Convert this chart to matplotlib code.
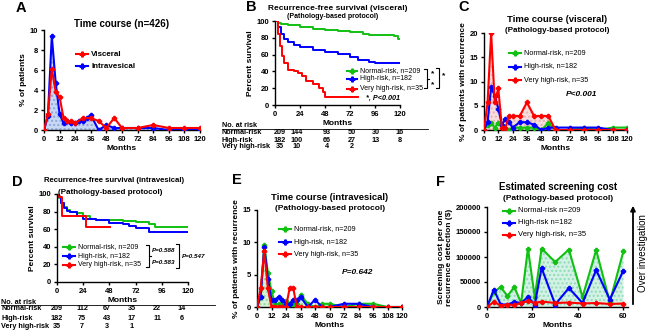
import matplotlib
matplotlib.use("Agg")
import matplotlib.pyplot as plt
from matplotlib.lines import Line2D
from matplotlib.patches import FancyArrowPatch

plt.rcParams["font.family"] = ["Liberation Sans", "DejaVu Sans"]
plt.rcParams["font.weight"] = "bold"
plt.rcParams["axes.labelweight"] = "bold"
plt.rcParams["axes.linewidth"] = 1.0

RED = "#ff0000"
BLUE = "#0000ff"
GREEN = "#11c011"

# ---- panel A: time course, all patients
months_a = [0, 3, 6, 9, 12, 15, 18, 21, 24, 30, 36, 42, 48, 54, 60, 72, 84, 96, 108, 120]
visceral_a = [0, 1.6, 6.1, 3.8, 3.3, 1.2, 0.9, 0.9, 0.7, 1.2, 1.2, 0.9, 0.2, 1.2, 0.2, 0.2, 0.5, 0.2, 0.2, 0.2]
months_a_iv = [0, 3, 6, 9, 12, 15, 18, 21, 24, 27, 30, 33, 36, 42, 48, 54, 60, 72, 84, 96, 108, 120]
intraves_a = [0, 1.4, 9.4, 4.7, 1.6, 0.7, 0.9, 0.7, 0.7, 0.9, 0.9, 1.2, 1.5, 0, 0.5, 0.2, 0.2, 0.2, 0.2, 0, 0, 0]

# ---- panel B: recurrence-free survival (visceral)
km_b_normal_t = [0, 3, 6, 12, 24, 36, 48, 60, 72, 84, 90, 108, 114, 118, 120]
km_b_normal_s = [100, 98, 97, 95, 93, 91, 89, 88, 87, 85, 83, 83, 82, 78, 78]
km_b_high_t = [0, 3, 6, 9, 12, 18, 24, 36, 48, 60, 72, 80, 90, 96, 120]
km_b_high_s = [100, 93, 85, 78, 75, 72, 69, 66, 63, 61, 57, 54, 51, 50, 50]
km_b_vhigh_t = [0, 3, 5, 7, 9, 12, 18, 22, 26, 30, 36, 42, 46, 48, 80]
km_b_vhigh_s = [100, 85, 70, 58, 50, 42, 40, 38, 35, 28, 25, 20, 15, 10, 10]
risk_b_normal = ["209", "144", "93", "50", "30", "16"]
risk_b_high = ["182", "100", "66", "27", "13", "8"]
risk_b_vhigh = ["35", "10", "4", "2"]

# ---- panel C: time course (visceral) by risk group
months_c = [0, 3, 6, 9, 12, 15, 18, 21, 24, 30, 36, 42, 48, 54, 60, 72, 84, 96, 108, 120]
c_normal = [0, 1.0, 1.4, 0.5, 1.4, 1.0, 0.5, 0, 0.5, 0.5, 0.5, 0.5, 0, 1.4, 0, 0, 0.5, 0, 0.5, 0.5]
c_high = [0, 1.6, 8.8, 7.1, 4.4, 1.1, 2.2, 1.6, 0.5, 1.6, 1.6, 1.1, 0, 0.5, 0.5, 0.5, 0.5, 0.5, 0, 0]
c_vhigh = [0, 5.7, 20, 5.7, 8.6, 0.5, 0.5, 2.9, 2.9, 2.9, 5.7, 2.9, 2.9, 2.9, 0, 0, 0, 0, 0, 0]

# ---- panel D: recurrence-free survival (intravesical)
km_d_normal_t = [0, 2, 4, 6, 9, 12, 18, 24, 30, 36, 48, 60, 72, 84, 90, 120]
km_d_normal_s = [100, 96, 90, 85, 82, 80, 78, 75, 72, 71, 70, 69, 68, 66, 63, 63]
km_d_high_t = [0, 2, 4, 6, 9, 12, 18, 24, 36, 48, 60, 66, 72, 84, 120]
km_d_high_s = [100, 97, 90, 84, 81, 79, 75, 72, 70, 67, 66, 64, 61, 57, 57]
km_d_vhigh_t = [0, 2, 5, 27, 49]
km_d_vhigh_s = [100, 97, 75, 62, 62]
risk_d_normal = ["209", "112", "67", "35", "22", "14"]
risk_d_high = ["182", "75", "43", "17", "11", "6"]
risk_d_vhigh = ["35", "7", "3", "1"]

# ---- panel E: time course (intravesical) by risk group
months_e = [0, 3, 6, 9, 12, 15, 18, 21, 24, 27, 30, 33, 36, 42, 48, 54, 60, 72, 84, 96, 108, 120]
e_normal = [0, 1.5, 9.6, 5.3, 2.4, 0.5, 0.5, 0.5, 1.0, 0.5, 0.5, 0.5, 1.9, 0.5, 0, 0.5, 0.5, 0, 0.5, 0.5, 0, 0]
e_high = [0, 1.6, 9.3, 4.4, 1.1, 1.1, 1.6, 1.1, 0.5, 0.5, 1.1, 1.1, 1.6, 0, 1.1, 0, 0, 0.5, 0.5, 0, 0, 0]
e_vhigh = [0, 2.9, 8.6, 2.9, 0, 0, 0, 0, 0, 2.9, 2.9, 0, 0, 0, 0, 0, 0, 0, 0, 0, 0, 0]

# ---- panel F: estimated screening cost
months_f = [0, 3, 6, 9, 12, 15, 18, 21, 24, 30, 36, 42, 48, 54, 60]
f_normal = [0, 30000, 40000, 22000, 40000, 8000, 117000, 20000, 117000, 90000, 115000, 20000, 114000, 10000, 112000]
f_high = [0, 35000, 5000, 5000, 10000, 8000, 20000, 5000, 78000, 5000, 38000, 8000, 74000, 15000, 73000]
f_vhigh = [0, 10000, 3000, 5000, 4000, 8000, 12000, 8000, 11000, 8000, 9000, 7000, 8000, 6000, 7000]

W, H = 650, 331
fig = plt.figure(figsize=(6.5, 3.31), dpi=100)


def px_axes(l, t, r, b):
    ax = fig.add_axes([l / W, 1 - b / H, (r - l) / W, (b - t) / H])
    ax.spines["top"].set_visible(False)
    ax.spines["right"].set_visible(False)
    ax.tick_params(labelsize=5.5, length=2.5, width=1, pad=1.5)
    return ax


def ftext(x, y, s, **kw):
    kw.setdefault("fontsize", 6)
    kw.setdefault("va", "center")
    fig.text(x / W, 1 - y / H, s, **kw)


def fline(xs, ys, **kw):
    fig.add_artist(Line2D([x / W for x in xs], [1 - y / H for y in ys], **kw))


def legend_item(x0, x1, y, color, label, size=5.2, weight="normal"):
    fline([x0, x1], [y, y], color=color, lw=1.5)
    fline([(x0 + x1) / 2], [y], color=color, marker="P", ms=3.5, lw=0)
    ftext(x1 + 3, y, label, fontsize=size, fontweight=weight, ha="left")


def bold_ticks(ax):
    for lab in ax.get_xticklabels() + ax.get_yticklabels():
        lab.set_fontweight("bold")


def letter(x, y, s):
    ftext(x, y, s, fontsize=10.5, fontweight="bold", ha="left")


mk = dict(marker="P", ms=3, lw=1.5)
TB = dict(fontsize=5.2, fontweight="bold")

# ---------------- A
ax = px_axes(44, 30, 200, 130)
ax.fill_between(months_a_iv, intraves_a, color="#c9d8f2", hatch="....", edgecolor="#8aa6dd", lw=0)
ax.plot(months_a_iv, intraves_a, color=BLUE, **mk, zorder=3)
ax.plot(months_a, visceral_a, color=RED, **mk, zorder=4)
ax.set_xlim(0, 120)
ax.set_ylim(0, 10)
ax.set_xticks(range(0, 121, 12))
ax.set_yticks(range(0, 11, 2))
ax.set_xlabel("Months", fontsize=6, labelpad=2)
ax.set_ylabel("% of patients", fontsize=6, labelpad=2)
bold_ticks(ax)
ftext(122, 24, "Time course (n=426)", fontsize=7, fontweight="bold", ha="center")
legend_item(76, 88, 54, RED, "Visceral", size=5.8, weight="bold")
legend_item(76, 88, 66, BLUE, "Intravesical", size=5.8, weight="bold")
letter(16, 8, "A")

# ---------------- B
ax = px_axes(275, 21, 400, 105)
ax.step(km_b_normal_t, km_b_normal_s, where="post", color=GREEN, lw=1.4)
ax.step(km_b_high_t, km_b_high_s, where="post", color=BLUE, lw=1.4)
ax.step(km_b_vhigh_t, km_b_vhigh_s, where="post", color=RED, lw=1.4)
ax.set_xlim(0, 120)
ax.set_ylim(0, 100)
ax.set_xticks(range(0, 121, 24))
ax.set_yticks(range(0, 101, 20))
ax.set_xlabel("Months", fontsize=6, labelpad=2)
ax.set_ylabel("Percent survival", fontsize=6, labelpad=2)
bold_ticks(ax)
ftext(338, 8, "Recurrence-free survival (visceral)", fontsize=6, fontweight="bold", ha="center")
ftext(333, 16, "(Pathology-based protocol)", fontsize=5, fontweight="bold", ha="center")
legend_item(347, 357, 71, GREEN, "Normal-risk, n=209", size=5)
legend_item(347, 357, 79, BLUE, "High-risk, n=182", size=5)
legend_item(347, 357, 89, RED, "Very high-risk, n=35", size=5)
fline([424, 427, 427, 424], [69, 69, 88, 88], color="black", lw=0.8)
fline([427, 429], [79, 79], color="black", lw=0.8)
ftext(431, 74, "*", fontsize=6)
ftext(431, 85, "*", fontsize=6)
fline([436, 439, 439, 436], [68, 68, 88, 88], color="black", lw=0.8)
ftext(442, 76, "*", fontsize=6)
ftext(383, 98, "*, P<0.001", fontsize=5.2, fontweight="bold", style="italic", ha="center")
ftext(222, 125, "No. at risk", ha="left", **TB)
fline([222, 428], [129, 129], color="black", lw=0.6)
cols_b = [280, 297, 327, 352, 376, 400]
for y, lab, vals in [(132, "Normal-risk", risk_b_normal), (140, "High-risk", risk_b_high),
                     (147, "Very high-risk", risk_b_vhigh)]:
    ftext(222, y, lab, ha="left", **TB)
    for x, v in zip(cols_b, vals):
        ftext(x, y, v, ha="center", **TB)
letter(246, 7, "B")

# ---------------- C
ax = px_axes(484, 33, 627, 130)
ax.fill_between(months_c, c_vhigh, color="#f6dede", hatch="....", edgecolor="#efb0b0", lw=0)
ax.plot(months_c, c_normal, color=GREEN, **mk, zorder=3)
ax.plot(months_c, c_high, color=BLUE, **mk, zorder=4)
ax.plot(months_c, c_vhigh, color=RED, **mk, zorder=5)
ax.set_xlim(0, 120)
ax.set_ylim(0, 20)
ax.set_xticks(range(0, 121, 12))
ax.set_yticks(range(0, 21, 5))
ax.set_xlabel("Months", fontsize=6, labelpad=2)
ax.set_ylabel("% of patients with recurrence", fontsize=6, labelpad=2)
bold_ticks(ax)
ftext(557, 20, "Time course (visceral)", fontsize=6.8, fontweight="bold", ha="center")
ftext(557, 31, "(Pathology-based protocol)", fontsize=5.8, fontweight="bold", ha="center")
legend_item(509, 521, 53, GREEN, "Normal-risk, n=209")
legend_item(509, 521, 67, BLUE, "High-risk, n=182")
legend_item(509, 521, 80, RED, "Very high-risk, n=35")
ftext(582, 95, "P<0.001", fontsize=6, fontweight="bold", style="italic", ha="center")
letter(458, 7, "C")

# ---------------- D
ax = px_axes(57, 194, 188, 282)
ax.step(km_d_normal_t, km_d_normal_s, where="post", color=GREEN, lw=1.4)
ax.step(km_d_high_t, km_d_high_s, where="post", color=BLUE, lw=1.4)
ax.step(km_d_vhigh_t, km_d_vhigh_s, where="post", color=RED, lw=1.4)
ax.set_xlim(0, 120)
ax.set_ylim(0, 100)
ax.set_xticks(range(0, 121, 24))
ax.set_yticks(range(0, 101, 20))
ax.set_xlabel("Months", fontsize=6, labelpad=2)
ax.set_ylabel("Percent survival", fontsize=6, labelpad=2)
bold_ticks(ax)
ftext(114, 180, "Recurrence-free survival (intravesical)", fontsize=5.6, fontweight="bold", ha="center")
ftext(110, 192, "(Pathology-based protocol)", fontsize=5.8, fontweight="bold", ha="center")
legend_item(63, 75, 247, GREEN, "Normal-risk, n=209", size=5)
legend_item(63, 75, 256, BLUE, "High-risk, n=182", size=5)
legend_item(63, 75, 265, RED, "Very high-risk, n=35", size=5)
fline([146, 149, 149, 146], [245, 245, 267, 267], color="black", lw=0.8)
fline([149, 151], [256, 256], color="black", lw=0.8)
ftext(152, 251, "P=0.588", fontsize=4.5, fontweight="bold", style="italic", ha="left")
ftext(152, 262, "P=0.583", fontsize=4.5, fontweight="bold", style="italic", ha="left")
fline([176, 179, 179, 176], [244, 244, 268, 268], color="black", lw=0.8)
ftext(182, 256, "P=0.547", fontsize=4.5, fontweight="bold", style="italic", ha="left")
ftext(1, 302, "No. at risk", ha="left", **TB)
fline([1, 215], [305, 305], color="black", lw=0.6)
cols_d = [57, 82, 107, 132, 157, 182]
for y, lab, vals in [(309, "Normal-risk", risk_d_normal), (318, "High-risk", risk_d_high),
                     (326, "Very high-risk", risk_d_vhigh)]:
    ftext(1, y, lab, ha="left", **TB)
    for x, v in zip(cols_d, vals):
        ftext(x, y, v, ha="center", **TB)
letter(12, 182, "D")

# ---------------- E
ax = px_axes(257, 210, 402, 307)
ax.fill_between(months_e, e_normal, color="#d8f2d8", hatch="....", edgecolor="#9ad89a", lw=0)
ax.plot(months_e, e_normal, color=GREEN, **mk, zorder=3)
ax.plot(months_e, e_high, color=BLUE, **mk, zorder=4)
ax.plot(months_e, e_vhigh, color=RED, **mk, zorder=5)
ax.set_xlim(0, 120)
ax.set_ylim(0, 15)
ax.set_xticks(range(0, 121, 12))
ax.set_yticks(range(0, 16, 5))
ax.set_xlabel("Months", fontsize=6, labelpad=2)
ax.set_ylabel("% of patients with recurrence", fontsize=6, labelpad=2)
bold_ticks(ax)
ftext(330, 197, "Time course (intravesical)", fontsize=6.8, fontweight="bold", ha="center")
ftext(330, 208, "(Pathology-based protocol)", fontsize=6, fontweight="bold", ha="center")
legend_item(279, 291, 229, GREEN, "Normal-risk, n=209")
legend_item(279, 291, 242, BLUE, "High-risk, n=182")
legend_item(279, 291, 254, RED, "Very high-risk, n=35")
ftext(358, 272, "P=0.642", fontsize=6, fontweight="bold", style="italic", ha="center")
letter(232, 180, "E")

# ---------------- F
ax = px_axes(487, 207, 628, 307)
ax.fill_between(months_f, f_normal, color="#d3f1e4", hatch="....", edgecolor="#8edcb8", lw=0)
ax.plot(months_f, f_normal, color=GREEN, **mk, zorder=3)
ax.plot(months_f, f_high, color=BLUE, **mk, zorder=4)
ax.plot(months_f, f_vhigh, color=RED, **mk, zorder=5)
ax.set_xlim(0, 62)
ax.set_ylim(0, 200000)
ax.set_xticks([0, 20, 40, 60])
ax.set_yticks(range(0, 200001, 50000))
ax.set_xlabel("Months", fontsize=6, labelpad=2)
ax.set_ylabel("Screening cost per one\nrecurrence detection ($)", fontsize=6, labelpad=2)
bold_ticks(ax)
ftext(558, 187, "Estimated screening cost", fontsize=7, fontweight="bold", ha="center")
ftext(558, 199, "(Pathology-based protocol)", fontsize=6, fontweight="bold", ha="center")
legend_item(503, 515, 211, GREEN, "Normal-risk n=209", size=5.5)
legend_item(503, 515, 223, BLUE, "High-risk n=182", size=5.5)
legend_item(503, 515, 235, RED, "Very high-risk, n=35", size=5.5)
fig.add_artist(FancyArrowPatch(
    (633 / W, 1 - 307 / H), (633 / W, 1 - 203 / H), transform=fig.transFigure,
    arrowstyle="-|>", mutation_scale=7, lw=1.3, color="black"))
ftext(643, 253, "Over investigation", fontsize=7, fontweight="normal", ha="center", rotation=90)
letter(436, 182, "F")

fig.savefig("out.png", dpi=100)
